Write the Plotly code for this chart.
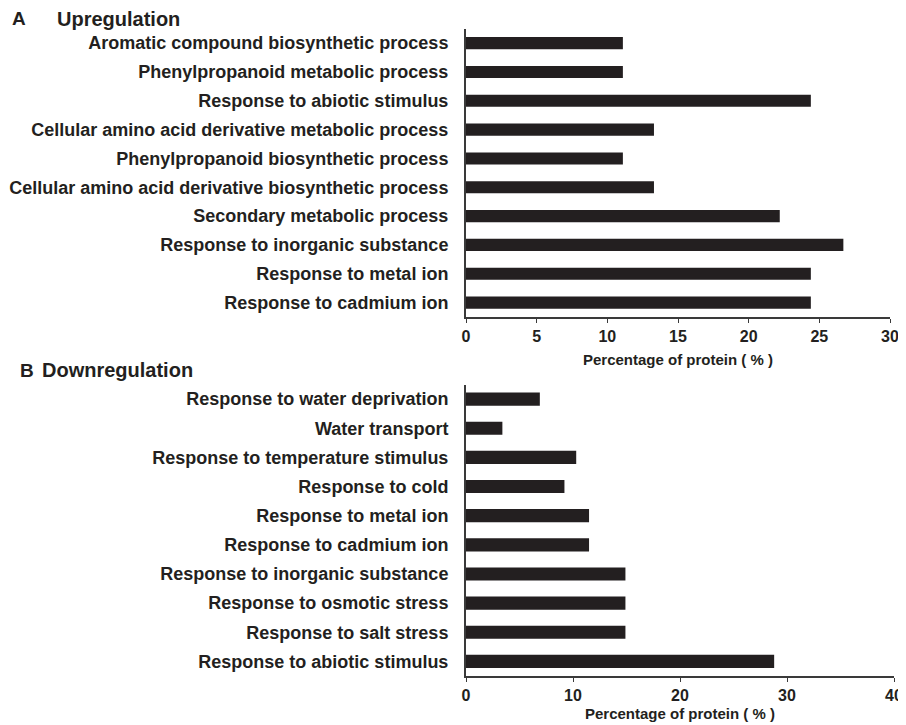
import plotly.graph_objects as go

up_labels = [
    "Aromatic compound biosynthetic process",
    "Phenylpropanoid metabolic process",
    "Response to abiotic stimulus",
    "Cellular amino acid derivative metabolic process",
    "Phenylpropanoid biosynthetic process",
    "Cellular amino acid derivative biosynthetic process",
    "Secondary metabolic process",
    "Response to inorganic substance",
    "Response to metal ion",
    "Response to cadmium ion",
]
up_values = [11.1, 11.1, 24.4, 13.3, 11.1, 13.3, 22.2, 26.7, 24.4, 24.4]

down_labels = [
    "Response to water deprivation",
    "Water transport",
    "Response to temperature stimulus",
    "Response to cold",
    "Response to metal ion",
    "Response to cadmium ion",
    "Response to inorganic substance",
    "Response to osmotic stress",
    "Response to salt stress",
    "Response to abiotic stimulus",
]
down_values = [6.9, 3.4, 10.3, 9.2, 11.5, 11.5, 14.9, 14.9, 14.9, 28.8]

up_ticks = [0, 5, 10, 15, 20, 25, 30]
down_ticks = [0, 10, 20, 30, 40]
x_title = "Percentage of protein ( % )"

BAR = "#231f20"
AX = "#3a3a3a"
TXT = "#231f20"
FONT = "Liberation Sans, Arial, sans-serif"
OFF = 8  # page body margin
W, H = 906 - OFF, 725 - OFF

def px_x(sx):
    return (sx - OFF) / W

def px_y(sy):
    return 1 - (sy - OFF) / H

fig = go.Figure()
fig.add_trace(go.Bar(x=up_values, y=list(range(len(up_labels))), orientation="h",
                     marker=dict(color=BAR, line=dict(width=0)), width=0.42,
                     xaxis="x", yaxis="y", showlegend=False))
fig.add_trace(go.Bar(x=down_values, y=list(range(len(down_labels))), orientation="h",
                     marker=dict(color=BAR, line=dict(width=0)), width=0.45,
                     xaxis="x2", yaxis="y2", showlegend=False))

tickfont = dict(family=FONT, size=16, color=TXT)
labfont = dict(family=FONT, size=18, color=TXT)
titlefont = dict(family=FONT, size=15, color=TXT)

common_x = dict(showgrid=False, zeroline=False, showline=True, linecolor=AX, linewidth=2,
                ticks="outside", ticklen=4, tickwidth=1, tickcolor=AX,
                tickfont=tickfont, automargin=False)
common_y = dict(showgrid=False, zeroline=False, showline=True, linecolor=AX, linewidth=2,
                ticks="", tickfont=labfont, ticklabelstandoff=12, automargin=False)

fig.update_layout(
    width=W, height=H,
    margin=dict(l=0, r=0, t=0, b=0),
    paper_bgcolor="white", plot_bgcolor="white",
    xaxis=dict(domain=[px_x(466), px_x(890)], range=[0, 30], anchor="y",
               tickvals=up_ticks, ticktext=["<b>%d</b>" % t for t in up_ticks],
               title=dict(text="<b>" + x_title + "</b>", font=titlefont, standoff=10),
               **common_x),
    yaxis=dict(domain=[px_y(317), px_y(28.7)], range=[9.5, -0.5], anchor="x",
               tickvals=list(range(len(up_labels))),
               ticktext=["<b>%s</b>" % s for s in up_labels],
               **common_y),
    xaxis2=dict(domain=[px_x(466), px_x(894)], range=[0, 40], anchor="y2",
                tickvals=down_ticks, ticktext=["<b>%d</b>" % t for t in down_ticks],
                title=dict(text="<b>" + x_title + "</b>", font=titlefont, standoff=5),
                **common_x),
    yaxis2=dict(domain=[px_y(676), px_y(384.5)], range=[9.5, -0.5], anchor="x2",
                tickvals=list(range(len(down_labels))),
                ticktext=["<b>%s</b>" % s for s in down_labels],
                **common_y),
    annotations=[
        dict(text="<b>A</b>", x=px_x(10), y=px_y(19), xref="paper", yref="paper",
             xanchor="left", yanchor="middle", showarrow=False,
             font=dict(family=FONT, size=19, color=TXT)),
        dict(text="<b>Upregulation</b>", x=px_x(55), y=px_y(19), xref="paper", yref="paper",
             xanchor="left", yanchor="middle", showarrow=False,
             font=dict(family=FONT, size=20, color=TXT)),
        dict(text="<b>B</b>", x=px_x(18), y=px_y(370), xref="paper", yref="paper",
             xanchor="left", yanchor="middle", showarrow=False,
             font=dict(family=FONT, size=19, color=TXT)),
        dict(text="<b>Downregulation</b>", x=px_x(40), y=px_y(370), xref="paper", yref="paper",
             xanchor="left", yanchor="middle", showarrow=False,
             font=dict(family=FONT, size=20, color=TXT)),
    ],
)

fig.write_html("out.html")
